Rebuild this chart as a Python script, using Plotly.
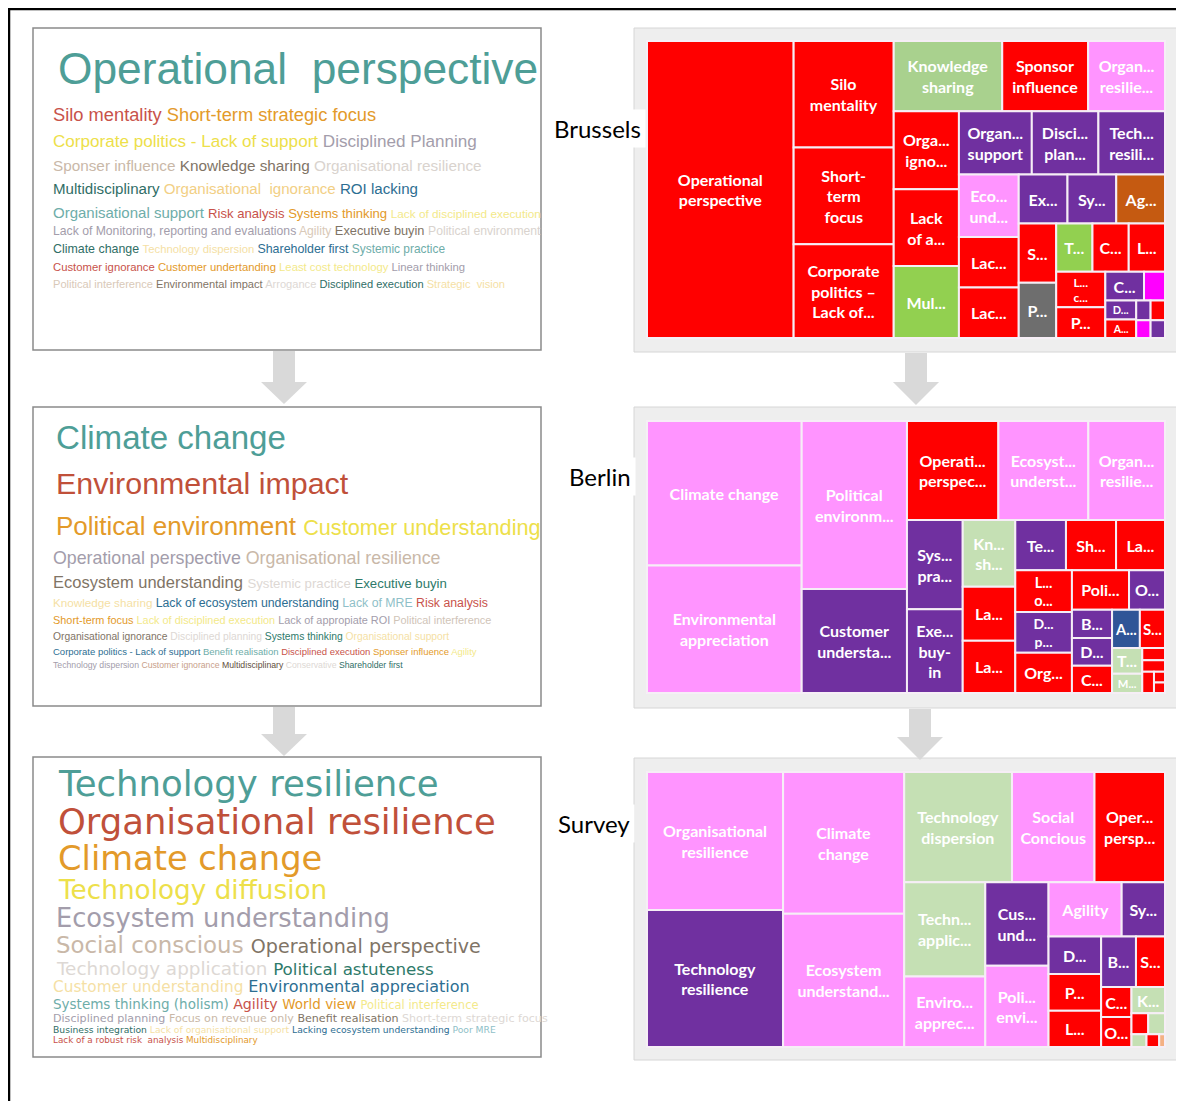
import plotly.graph_objects as go

# ---------------- data ----------------
# word clouds: one list of words per printed line, relative weight and colour of each word
brussels_words = [
    ["Operational  perspective"],
    ["Silo mentality", "Short-term strategic focus"],
    ["Corporate politics - Lack of support", "Disciplined Planning"],
    ["Sponser influence", "Knowledge sharing", "Organisational resilience"],
    ["Multidisciplinary", "Organisational  ignorance", "ROI lacking"],
    ["Organisational support", "Risk analysis", "Systems thinking", "Lack of disciplined execution"],
    ["Lack of Monitoring, reporting and evaluations", "Agility", "Executive buyin", "Political environment"],
    ["Climate change", "Technology dispersion", "Shareholder first", "Systemic practice"],
    ["Customer ignorance", "Customer undertanding", "Least cost technology", "Linear thinking"],
    ["Political interference", "Environmental impact", "Arrogance", "Disciplined execution", "Strategic  vision"],
]
brussels_weights = [
    [1], [1, 1], [1, 1], [1, 1, 1], [1, 1, 1], [1.15, 1, 1, 0.9],
    [1, 1, 1.05, 1], [1.1, 1, 1.1, 1.05], [1, 1, 1, 1], [1, 1, 1, 1, 1],
]
brussels_colors = [
    ["#4E9E97"],
    ["#C8524A", "#E39A2A"],
    ["#EDE04A", "#A39DAB"],
    ["#C9B8A8", "#7F7466", "#D9D3CE"],
    ["#2F6E66", "#F2CF85", "#2D6E92"],
    ["#6EADA9", "#C8524A", "#E39A2A", "#F3E98A"],
    ["#A39DAB", "#D9C9B8", "#7F7466", "#D9D3CE"],
    ["#2F6E66", "#F5DFA5", "#2D6E92", "#6EADA9"],
    ["#C8524A", "#E39A2A", "#F3E98A", "#A39DAB"],
    ["#D9C9B8", "#7F7466", "#DDD8D4", "#2F6E66", "#F5DFA5"],
]

berlin_words = [
    ["Climate change"],
    ["Environmental impact"],
    ["Political environment", "Customer understanding"],
    ["Operational perspective", "Organisational resilience"],
    ["Ecosystem understanding", "Systemic practice", "Executive buyin"],
    ["Knowledge sharing", "Lack of ecosystem understanding", "Lack of MRE", "Risk analysis"],
    ["Short-term focus", "Lack of disciplined execution", "Lack of appropiate ROI", "Political interference"],
    ["Organisational ignorance", "Disciplined planning", "Systems thinking", "Organisational support"],
    ["Corporate politics - Lack of support", "Benefit realisation", "Disciplined execution", "Sponser influence", "Agility"],
    ["Technology dispersion", "Customer ignorance", "Multidisciplinary", "Conservative", "Shareholder first"],
]
berlin_weights = [
    [1], [1], [1.2, 1], [1, 1], [1.25, 1, 1], [1, 1.05, 1.05, 1.05],
    [1, 1, 1, 1], [1, 1, 1, 1], [1, 1, 1, 1, 1], [1, 1, 1, 1, 1],
]
berlin_colors = [
    ["#4E9E97"],
    ["#C0503A"],
    ["#E39A2A", "#EDE04A"],
    ["#A39DAB", "#C9B8A8"],
    ["#7F7466", "#DDD8D4", "#2E7A6A"],
    ["#F5DFA5", "#2D6E92", "#8FBFC8", "#C8524A"],
    ["#E39A2A", "#F3E98A", "#A39DAB", "#D0C4B8"],
    ["#7F7466", "#DDD8D4", "#2E7A6A", "#F5DFA5"],
    ["#2D6E92", "#6EADA9", "#C8524A", "#E39A2A", "#F3E98A"],
    ["#A39DAB", "#C8A08A", "#5F5040", "#DDD8D4", "#2F6E66"],
]

survey_words = [
    ["Technology resilience"],
    ["Organisational resilience"],
    ["Climate change"],
    ["Technology diffusion"],
    ["Ecosystem understanding"],
    ["Social conscious", "Operational perspective"],
    ["Technology application", "Political astuteness"],
    ["Customer understanding", "Environmental appreciation"],
    ["Systems thinking (holism)", "Agility", "World view", "Political interference"],
    ["Disciplined planning", "Focus on revenue only", "Benefit realisation", "Short-term strategic focus"],
    ["Business integration", "Lack of organisational support", "Lacking ecosystem understanding", "Poor MRE"],
    ["Lack of a robust risk  analysis", "Multidisciplinary"],
]
survey_weights = [
    [1], [1], [1], [1], [1], [1.2, 1], [1.1, 1], [1, 1.05],
    [1, 1.05, 1, 0.85], [1, 1, 1, 1], [1, 1, 1, 1], [1, 1],
]
survey_colors = [
    ["#4E9E97"],
    ["#C0503A"],
    ["#E39A2A"],
    ["#EDE04A"],
    ["#A39DAB"],
    ["#C9B8A8", "#7F7466"],
    ["#DDD8D4", "#2E7A6A"],
    ["#F5DFA5", "#2D6E92"],
    ["#6EADA9", "#C8524A", "#E39A2A", "#F3E98A"],
    ["#A39DAB", "#C9B8A8", "#7F7466", "#DDD8D4"],
    ["#2F6E66", "#F5DFA5", "#2D6E92", "#8FBFC8"],
    ["#C8524A", "#E39A2A"],
]

RED, PURPLE, PINK = "#FF0000", "#7030A0", "#FF94FF"
LGREEN, MGREEN, GREEN = "#C5E0B4", "#A9D18E", "#92D050"

# treemaps
brussels_topics = [
    "Operational perspective", "Silo mentality", "Short-term focus", "Corporate politics – Lack of support",
    "Knowledge sharing", "Sponsor influence", "Organisational resilience", "Organisational ignorance",
    "Lack of a robust risk analysis", "Multidisciplinary", "Organisational support", "Disciplined planning",
    "Technology resilience", "Ecosystem understanding", "Lack of disciplined execution",
    "Lack of monitoring and evaluation", "Executive buyin", "Systems thinking", "Agility",
    "Shareholder first", "Political interference", "Technology dispersion", "Customer ignorance",
    "Linear thinking", "Least cost technology", "Political environment", "Customer understanding",
    "Strategic vision", "Disciplined execution", "Arrogance", "Risk analysis", "ROI lacking",
    "Environmental impact", "Systemic practice",
]
brussels_scores = [274, 67, 61, 59, 48, 38, 34, 32, 31.5, 29.5, 29, 26.5, 26.5, 23.5, 19, 19, 15, 15, 15,
                   14, 13, 11, 11, 11, 11, 9.5, 7, 3.8, 3.7, 3.6, 1.8, 1.8, 1.6, 1.6]
brussels_tile_colors = [RED, RED, RED, RED, MGREEN, RED, PINK, RED, RED, GREEN, PURPLE, PURPLE, PURPLE, PINK,
                        RED, RED, PURPLE, PURPLE, "#C55A11", RED, "#6E6E6E", GREEN, RED, RED, RED, RED,
                        PURPLE, "#FF00FF", PURPLE, RED, PURPLE, RED, "#FF00FF", PURPLE]
brussels_shown = ["Operational<br>perspective", "Silo<br>mentality", "Short-<br>term<br>focus",
                  "Corporate<br>politics –<br>Lack of...", "Knowledge<br>sharing", "Sponsor<br>influence",
                  "Organ...<br>resilie...", "Orga...<br>igno...", "Lack<br>of a...", "Mul...",
                  "Organ...<br>support", "Disci...<br>plan...", "Tech...<br>resili...", "Eco...<br>und...",
                  "Lac...", "Lac...", "Ex...", "Sy...", "Ag...", "S...", "P...", "T...", "C...", "L...",
                  "L...<br>c...", "P...", "C...", "", "D...", "A...", "", "", "", ""]

berlin_topics = [
    "Climate change", "Environmental appreciation", "Political environment", "Customer understanding",
    "Operational perspective", "Ecosystem understanding", "Organisational resilience", "Systemic practice",
    "Executive buy-in", "Knowledge sharing", "Lack of ecosystem understanding", "Lack of MRE",
    "Technology dispersion", "Short-term focus", "Lack of appropiate ROI", "Lack of disciplined execution",
    "Disciplined planning", "Organisational ignorance", "Political interference", "Organisational support",
    "Benefit realisation", "Disciplined execution", "Corporate politics", "Agility", "Sponser influence",
    "Technology diffusion", "Multidisciplinary", "Risk analysis", "Systems thinking", "Customer ignorance",
    "Conservative", "Shareholder first",
]
berlin_scores = [153, 135, 121, 75, 62, 61, 52, 34, 32, 24, 19.4, 18.8, 17.4, 17.2, 16.8, 16.2, 15.8, 15.6,
                 15.4, 9.7, 7.8, 7.6, 7.5, 7.3, 6.6, 5.3, 4, 1.9, 1.8, 1.7, 0.8, 0.8]
berlin_tile_colors = [PINK, PINK, PINK, PURPLE, RED, PINK, PINK, PURPLE, PURPLE, LGREEN, RED, RED, PURPLE,
                      RED, RED, RED, PURPLE, RED, RED, PURPLE, PURPLE, PURPLE, RED, "#2F5597", RED, LGREEN,
                      LGREEN, RED, RED, RED, RED, RED]
berlin_shown = ["Climate change", "Environmental<br>appreciation", "Political<br>environm...",
                "Customer<br>understa...", "Operati...<br>perspec...", "Ecosyst...<br>underst...",
                "Organ...<br>resilie...", "Sys...<br>pra...", "Exe...<br>buy-<br>in", "Kn...<br>sh...",
                "La...", "La...", "Te...", "Sh...", "La...", "L...<br>o...", "D...<br>p...", "Org...", "Poli...",
                "O...", "B...", "D...", "C...", "A...", "S...", "T...", "M...", "", "", "", "", ""]

survey_topics = [
    "Organisational resilience", "Technology resilience", "Climate change", "Ecosystem understanding",
    "Technology dispersion", "Social Concious", "Operational perspective", "Technology application",
    "Environmental appreciation", "Customer understanding", "Political environment", "Agility",
    "Systems thinking", "Disciplined planning", "Political interference", "Lack of a robust risk analysis",
    "Business integration", "Short-term strategic focus", "Conservative", "Organisational ignorance",
    "Knowledge sharing", "World view", "Multidisciplinary", "Poor MRE", "Benefit realisation",
    "Lack of organisational support",
]
survey_scores = [128, 127, 117, 110, 81, 62, 53, 52, 39, 36, 35, 27, 16, 13.4, 13.2, 13, 12, 10, 6.2, 6.2, 6,
                 2.4, 2.4, 1.3, 1.1, 0.5]
survey_tile_colors = [PINK, PURPLE, PINK, PINK, LGREEN, PINK, RED, LGREEN, PINK, PURPLE, PINK, PINK, PURPLE,
                      PURPLE, RED, RED, PURPLE, RED, RED, RED, LGREEN, RED, LGREEN, LGREEN, RED, "#F4B183"]
survey_shown = ["Organisational<br>resilience", "Technology<br>resilience", "Climate<br>change",
                "Ecosystem<br>understand...", "Technology<br>dispersion", "Social<br>Concious",
                "Oper...<br>persp...", "Techn...<br>applic...", "Enviro...<br>apprec...", "Cus...<br>und...",
                "Poli...<br>envi...", "Agility", "Sy...", "D...", "P...", "L...", "B...", "S...", "C...", "O...",
                "K...", "", "", "", "", ""]

# ---------------- layout helpers ----------------
# the page body has an 8px margin, so the figure starts at (8, 8) of the window
OFF = 8
W, H = 1184 - OFF, 1101 - OFF


def px(x):
    return (x - OFF) / W


def py(y):
    return 1 - (y - OFF) / H


# Arial / Liberation Sans advance widths (1/1000 em)
CHAR_W = {}
for chars, w in [("ijl", 222), (" ,.!ftI/:;", 278), ("r-()", 333), ("cksvxyzJ", 500),
                 ("FTZ", 611), ("ABEKPSVXY", 667), ("CDHNRUw", 722), ("GOQ", 778), ("mM", 833), ("W", 944)]:
    for ch in chars:
        CHAR_W[ch] = w


def text_em(s):
    return sum(CHAR_W.get(ch, 556) for ch in s) / 1000


fig = go.Figure()


def add_cloud(words, weights, colors, rows, family, stretch):
    for line, wts, cols, (x0, x1, yc) in zip(words, weights, colors, rows):
        pieces = [w + (" " if i < len(line) - 1 else "") for i, w in enumerate(line)]
        em = sum(r * text_em(p) for r, p in zip(wts, pieces)) * stretch
        unit = (x1 - x0) / em
        sizes = [unit * r for r in wts]
        html = "".join(f"<span style='color:{c};font-size:{s:.1f}px'>{p.replace('  ', ' &nbsp;')}</span>"
                       for p, s, c in zip(pieces, sizes, cols))
        fig.add_annotation(x=px(x0), y=py(yc), xref="paper", yref="paper", xanchor="left", yanchor="middle",
                           text=html, showarrow=False, align="left", borderpad=0,
                           font=dict(family=family, size=max(sizes)))


def add_treemap(topics, scores, colors, shown, top, bottom):
    fig.add_trace(go.Treemap(
        ids=topics, labels=topics, parents=[""] * len(topics), values=scores,
        text=shown, texttemplate="<b>%{text}</b>", textposition="middle center",
        textfont=dict(family="Lato", size=16, color="white"),
        marker=dict(colors=colors, line=dict(color="#F6EEF6", width=2), pad=dict(t=0, l=0, r=0, b=0)),
        tiling=dict(pad=0), pathbar=dict(visible=False), sort=True,
        domain=dict(x=[px(647), px(1165)], y=[py(bottom), py(top)]),
        hoverinfo="label+value",
    ))


# frames
shapes = [dict(type="rect", xref="paper", yref="paper", x0=px(9), y0=-0.05, x1=1.05, y1=py(9),
               line=dict(color="black", width=2.5), layer="below")]
for top, bottom in [(28, 350), (407, 706), (757, 1057)]:
    shapes.append(dict(type="rect", xref="paper", yref="paper", x0=px(33), x1=px(541), y0=py(bottom), y1=py(top),
                       line=dict(color="#8A8A8A", width=1.5), fillcolor="white", layer="below"))
for top, bottom in [(28, 352), (407, 708), (758, 1060)]:
    shapes.append(dict(type="rect", xref="paper", yref="paper", x0=px(634), x1=px(1178), y0=py(bottom), y1=py(top),
                       line=dict(color="#D6D6D6", width=1), fillcolor="#EEEEEE", layer="below"))


def arrow(cx, y0, y1, y2):
    pts = [(cx - 11, y0), (cx + 11, y0), (cx + 11, y1), (cx + 23, y1), (cx, y2), (cx - 23, y1), (cx - 11, y1)]
    path = "M " + " L ".join(f"{px(a):.5f},{py(b):.5f}" for a, b in pts) + " Z"
    return dict(type="path", xref="paper", yref="paper", path=path, fillcolor="#D9D9D9",
                line=dict(width=0), layer="below")


shapes += [arrow(284, 351, 382, 404), arrow(284, 707, 734, 756),
           arrow(916, 353, 382, 405), arrow(920, 709, 737, 760)]

add_treemap(brussels_topics, brussels_scores, brussels_tile_colors, brussels_shown, 41, 338)
add_treemap(berlin_topics, berlin_scores, berlin_tile_colors, berlin_shown, 421, 693)
add_treemap(survey_topics, survey_scores, survey_tile_colors, survey_shown, 772, 1047)

brussels_rows = [(57, 537, 68), (52, 376, 115), (52, 476, 141), (52, 480, 165), (52, 418, 188),
                 (52, 540, 212), (52, 542, 230), (52, 446, 249), (52, 463, 267), (52, 504, 284)]
berlin_rows = [(55, 285, 438), (55, 347, 483), (55, 540, 526), (52, 439, 558), (52, 446, 582),
               (52, 486, 603), (52, 489, 620), (52, 450, 636), (52, 476, 651), (52, 402, 665)]
survey_rows = [(57, 441, 783), (57, 491, 821), (57, 319, 858), (57, 327, 890), (55, 386, 918),
               (55, 479, 945), (55, 431, 968), (52, 462, 986), (52, 469, 1004), (52, 540, 1018),
               (52, 494, 1030), (52, 254, 1040)]

SANS = "Liberation Sans, Arial"
add_cloud(brussels_words, brussels_weights, brussels_colors, brussels_rows, SANS, 1.0)
add_cloud(berlin_words, berlin_weights, berlin_colors, berlin_rows, SANS, 1.0)
add_cloud(survey_words, survey_weights, survey_colors, survey_rows, "DejaVu Sans, Verdana", 1.12)

for name, x, y in [("Brussels", 597, 128), ("Berlin", 600, 476), ("Survey", 594, 823)]:
    fig.add_annotation(x=px(x), y=py(y), xref="paper", yref="paper", text=name, showarrow=False,
                       xanchor="center", yanchor="middle", bgcolor="white", borderpad=4,
                       font=dict(family="Lato", size=24, color="black"))

fig.update_layout(width=W, height=H, margin=dict(l=0, r=0, t=0, b=0), shapes=shapes,
                  paper_bgcolor="white", plot_bgcolor="white", showlegend=False)

fig.write_html("out.html")
